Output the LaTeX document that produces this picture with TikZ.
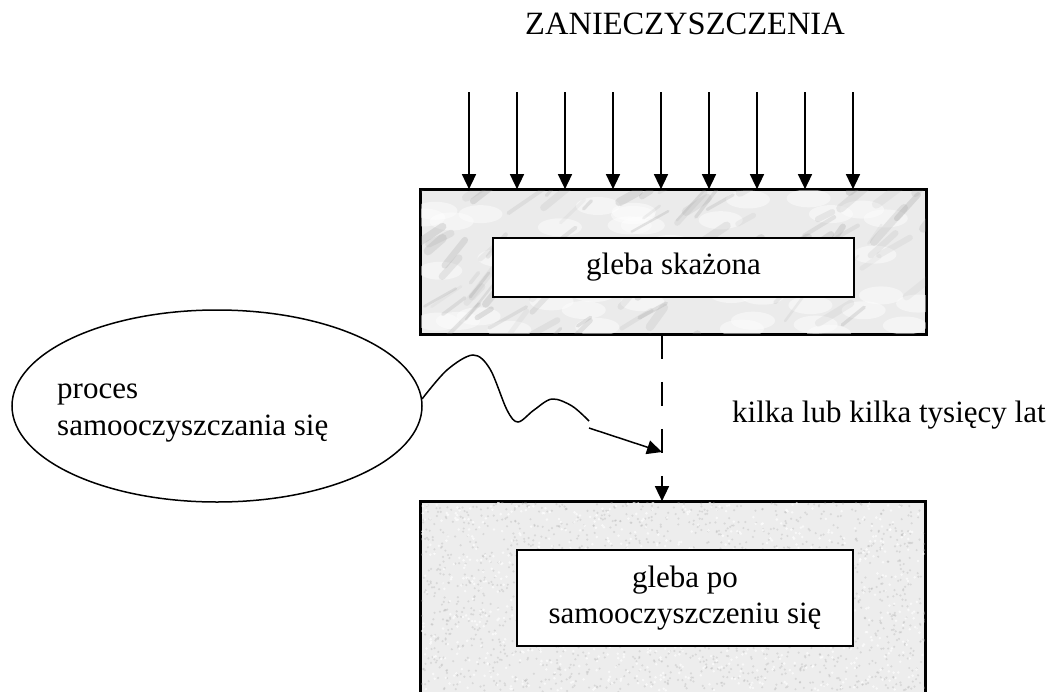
\documentclass[tikz,border=0pt]{standalone}
\usepackage{fontspec}
\setmainfont{Liberation Serif}
\usetikzlibrary{arrows.meta,shapes.geometric}
\begin{document}
\begin{tikzpicture}[x=1pt,y=-1pt,
  txt/.style={font=\fontsize{31}{38}\selectfont, inner sep=0pt},
  arr/.style={line width=1.5pt,-{Triangle[width=14pt,length=15pt]}},
  outerbox/.style={draw=black,line width=1.7pt,rectangle,inner sep=0pt},
  innerbox/.style={draw=black,line width=1.6pt,fill=white,rectangle,inner sep=0pt,align=center,font=\fontsize{31}{36}\selectfont},
  dashedarr/.style={line width=1.5pt,dash pattern=on 24pt off 23pt,-{Triangle[width=14pt,length=15pt]}},
]
\clip (0,0) rectangle (1055,691);
\fill[white] (0,0) rectangle (1055,691);

% title
\node[txt,font=\fontsize{32.5}{38}\selectfont,anchor=base] (title) at (685,34) {ZANIECZYSZCZENIA};

% top (contaminated) soil box
\node[outerbox,fill=gray!16,minimum width=505pt,minimum height=144pt] (top) at (673.5,262) {};
\begin{scope}
  \clip (421,190) rectangle (926,334);
  \pgfmathsetseed{7}
  \foreach \i in {1,...,45}{
    \pgfmathsetmacro\px{421+505*rnd}
    \pgfmathsetmacro\py{190+144*rnd}
    \fill[white,opacity=0.45] (\px,\py) ellipse (22pt and 9pt);
  }
  \foreach \i in {1,...,110}{
    \pgfmathsetmacro\px{400+530*rnd}
    \pgfmathsetmacro\py{190+170*rnd}
    \pgfmathsetmacro\len{10+40*rnd}
    \pgfmathsetmacro\ang{25+30*rnd}
    \pgfmathsetmacro\lw{2+7*rnd}
    \pgfmathsetmacro\op{0.08+0.18*rnd}
    \draw[gray!80,opacity=\op,line width=\lw pt,line cap=round]
      (\px,\py) -- ++({\len*cos(\ang)},{-\len*sin(\ang)});
  }
\end{scope}
\draw[line width=1.7pt] (top.south west) rectangle (top.north east);
\node[innerbox,minimum width=361pt,minimum height=59pt] (inner1) at (673.5,267.5) {gleba skażona};

% bottom (self-cleaned) soil box
\node[outerbox,fill=gray!14,minimum width=504pt,minimum height=240pt] (bot) at (673,622) {};
\begin{scope}
  \clip (421,502) rectangle (925,742);
  \pgfmathsetseed{3}
  \foreach \i in {1,...,1800}{
    \pgfmathsetmacro\px{421+504*rnd}
    \pgfmathsetmacro\py{502+190*rnd}
    \fill[gray!60,opacity=0.35] (\px,\py) circle (1.2pt);
  }
  \foreach \i in {1,...,900}{
    \pgfmathsetmacro\px{421+504*rnd}
    \pgfmathsetmacro\py{502+190*rnd}
    \fill[white,opacity=0.65] (\px,\py) circle (1.4pt);
  }
\end{scope}
\draw[line width=1.7pt] (bot.south west) rectangle (bot.north east);
\node[innerbox,minimum width=336pt,minimum height=96pt] (inner2) at (685,598) {gleba po\\samooczyszczeniu się};

% pollution arrows
\foreach \i in {0,...,8}{
  \coordinate (a\i) at ({469+48*\i},92);
  \draw[arr] (a\i) -- (a\i |- top.north);
}

% process ellipse
\node[draw,ellipse,line width=1.5pt,minimum width=410pt,minimum height=192pt,inner sep=0pt] (ell) at (217,406) {};
\node[txt,font=\fontsize{31}{37}\selectfont,align=left,anchor=west] (elltxt) at (57,413) {proces\\samooczyszczania się};

% time label
\node[txt,anchor=base west] (time) at (732,422) {kilka lub kilka tysięcy lat};

% dashed time arrow
\coordinate (mid) at (662,452);
\draw[dashedarr] (top.south -| mid) -- (bot.north -| mid);

% wavy connector
\coordinate (w2) at (589,428);
\draw[line width=1.5pt] plot[smooth,tension=0.55] coordinates {(ell.2) (447,370) (473,355) (490,369) (507,410) (518,422) (534,410) (552,399) (572,406) (589,421)};
\draw[arr] (w2) -- (mid);
\end{tikzpicture}
\end{document}
